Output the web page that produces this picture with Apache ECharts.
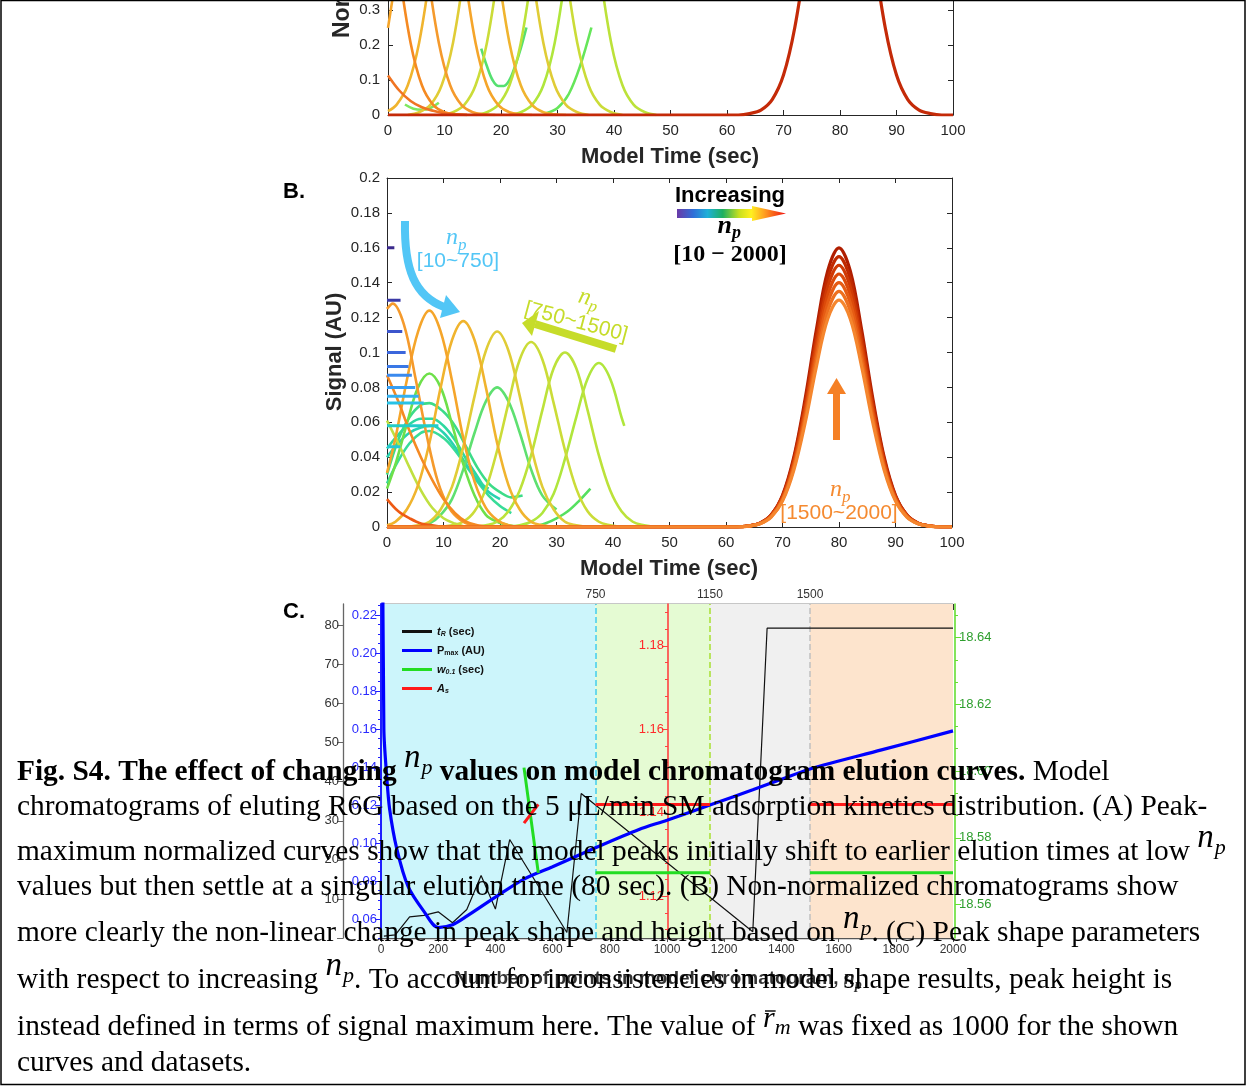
<!DOCTYPE html>
<html>
<head>
<meta charset="utf-8">
<title>Fig. S4</title>
<script src="https://cdn.jsdelivr.net/npm/echarts@6/dist/echarts.min.js"></script>
<style>html,body{margin:0;padding:0;background:#fff;} #main{width:1247px;height:1086px;}</style>
</head>
<body>
<div id="main"></div>
<script>
// ---------- panel A: normalized curves [time, signal] ----------
var aEdge1 = [[0,0.113],[2,0.07],[4,0.04],[6,0.022],[8,0.012],[10,0.005],[12,0.002],[14,0]];
var aEdge2 = [[0,0.67],[2,0.41],[4,0.206],[6,0.085],[8,0.029],[10,0.008],[12,0.002],[14,0]];
var aPeak1 = [[0,0.976],[1,1],[3,0.906],[5,0.674],[7,0.411],[9,0.206],[11,0.085],[13,0.029],[15,0.008],[17,0.002],[19,0]];
var aPeak2 = [[0,0.249],[1.5,0.411],[3.5,0.674],[5.5,0.906],[7.5,1],[9.5,0.906],[11.5,0.674],[13.5,0.411],[15.5,0.206],[17.5,0.085],[19.5,0.029],[21.5,0.008],[23.5,0.002],[25.5,0]];
var aPeak3 = [[0,0.011],[1.5,0.029],[3.5,0.085],[5.5,0.206],[7.5,0.411],[9.5,0.674],[11.5,0.906],[13.5,1],[15.5,0.906],[17.5,0.674],[19.5,0.411],[21.5,0.206],[23.5,0.085],[25.5,0.029],[27.5,0.008],[29.5,0.002],[31.5,0]];
var aPeak4 = [[3.5,0],[5.5,0.008],[7.5,0.029],[9.5,0.085],[11.5,0.206],[13.5,0.411],[15.5,0.674],[17.5,0.906],[19.5,1],[21.5,0.906],[23.5,0.674],[25.5,0.411],[27.5,0.206],[29.5,0.085],[31.5,0.029],[33.5,0.008],[35.5,0]];
var aPeak5 = [[9.5,0],[11.5,0.008],[13.5,0.029],[15.5,0.085],[17.5,0.206],[19.5,0.411],[21.5,0.674],[23.5,0.906],[25.5,1],[27.5,0.906],[29.5,0.674],[31.5,0.411],[33.5,0.206],[35.5,0.085],[37.5,0.029],[39.5,0.008],[41.5,0]];
var aPeak6 = [[15.5,0],[17.5,0.008],[19.5,0.029],[21.5,0.085],[23.5,0.206],[25.5,0.411],[27.5,0.674],[29.5,0.906],[31.5,1],[33.5,0.906],[35.5,0.674],[37.5,0.411],[39.5,0.206],[41.5,0.085],[43.5,0.029],[45.5,0.008],[47.5,0]];
var aPeak7 = [[21.5,0],[23.5,0.008],[25.5,0.029],[27.5,0.085],[29.5,0.206],[31.5,0.411],[33.5,0.674],[35.5,0.906],[37.5,1],[39.5,0.906],[41.5,0.674],[42,0.607]];
var aGreenLow = [[3,0.03],[4.5,0.018],[6,0.015],[7.5,0.02],[9,0.035]];
var aGreenDip = [[16.5,0.19],[17.5,0.14],[18.5,0.1],[19.5,0.083],[20.5,0.083],[21.5,0.1],[22.5,0.14],[23.5,0.19],[24.5,0.25]];
var aGreenRise = [[28,0.005],[30,0.02],[32,0.06],[34,0.14],[36,0.25]];
var lateX = [0,62,64,66,68,70,72,74,76,78,80,82,84,86,88,90,92,94,96,98,100];
var aLate = [0,0,0.004,0.014,0.044,0.114,0.25,0.458,0.707,0.917,1,0.917,0.707,0.458,0.25,0.114,0.044,0.014,0.004,0,0];
var aTicks = [0,0.1,0.2,0.3];

// ---------- panel B: raw curves [time, signal] ----------
var bFlatLevel = [0.16,0.13,0.112,0.1,0.092,0.087,0.08,0.075,0.071,0.058,0.046];
var bFlatEnd   = [1.3,2.4,2.7,3.3,3.8,4.4,5.0,5.6,6.5,9.1,2.4];
var bEdge1 = [[0,0.087],[2,0.072],[4,0.055],[6,0.04],[8,0.027],[10,0.016],[12,0.008],[14,0.003],[16,0.001],[18,0]];
var bEdge2 = [[0,0.016],[2,0.009],[4,0.005],[6,0.002],[8,0.001],[10,0]];
var bEdge3 = [[0,0.061],[2,0.048],[4,0.034],[6,0.021],[8,0.011],[10,0.005],[12,0.002],[14,0]];
var bGreen1 = [[0,0.022],[1.5,0.036],[3.5,0.059],[5.5,0.08],[7.5,0.088],[9.5,0.08],[11.5,0.059],[13.5,0.036],[15.5,0.018],[17.5,0.007],[19.5,0.003],[21.5,0.001],[23.5,0]];
var bGreen2 = [[5.5,0.001],[7.5,0.002],[9.5,0.007],[11.5,0.016],[13.5,0.033],[15.5,0.054],[17.5,0.072],[19.5,0.08],[21.5,0.072],[23.5,0.054],[25.5,0.033],[27.5,0.018],[30,0.01]];
var bTeal1 = [[0,0.03],[2,0.05],[4,0.063],[6,0.07],[7.5,0.071],[10,0.066],[12,0.058],[14,0.046],[16,0.034],[18,0.025],[20,0.02],[22,0.017],[24,0.018]];
var bTeal2 = [[0,0.045],[2,0.053],[4,0.059],[6,0.062],[8,0.062],[10,0.058],[12,0.05],[14,0.039],[16,0.029],[17,0.024],[18,0.022]];
var bTeal3 = [[0,0.04],[2,0.048],[4,0.054],[6,0.057],[8,0.058],[10,0.054],[12,0.046],[14,0.036],[16,0.027],[18,0.02],[20,0.016]];
var bTeal4 = [[0,0.025],[2,0.038],[4,0.048],[6,0.054],[7.5,0.055],[10,0.051],[12,0.044],[14,0.035],[16,0.026],[18,0.018],[20,0.012],[22,0.008]];
var bGreenRise = [[26,0],[28,0.002],[30,0.005],[32,0.009],[34,0.015],[36,0.022]];
var bPeak1 = [[0,0.125],[1,0.128],[3,0.116],[5,0.086],[7,0.053],[9,0.026],[11,0.011],[13,0.004],[15,0.001],[17,0]];
var bPeak2 = [[0,0.031],[1.5,0.051],[3.5,0.084],[5.5,0.112],[7.5,0.124],[9.5,0.112],[11.5,0.084],[13.5,0.051],[15.5,0.026],[17.5,0.011],[19.5,0.004],[21.5,0.001],[23.5,0]];
var bPeak3 = [[0,0.001],[1.5,0.003],[3.5,0.01],[5.5,0.024],[7.5,0.048],[9.5,0.08],[11.5,0.107],[13.5,0.118],[15.5,0.107],[17.5,0.08],[19.5,0.048],[21.5,0.024],[23.5,0.01],[25.5,0.003],[27.5,0.001],[29.5,0]];
var bPeak4 = [[3.5,0],[5.5,0.001],[7.5,0.003],[9.5,0.01],[11.5,0.023],[13.5,0.046],[15.5,0.075],[17.5,0.101],[19.5,0.112],[21.5,0.101],[23.5,0.075],[25.5,0.046],[27.5,0.023],[29.5,0.01],[31.5,0.003],[33.5,0.001],[35.5,0]];
var bPeak5 = [[9.5,0],[11.5,0.001],[13.5,0.003],[15.5,0.009],[17.5,0.022],[19.5,0.044],[21.5,0.071],[23.5,0.096],[25.5,0.106],[27.5,0.096],[29.5,0.071],[31.5,0.044],[33.5,0.022],[35.5,0.009],[37.5,0.003],[39.5,0.001],[41.5,0]];
var bPeak6 = [[15.5,0],[17.5,0.001],[19.5,0.003],[21.5,0.009],[23.5,0.021],[25.5,0.041],[27.5,0.067],[29.5,0.091],[31.5,0.1],[33.5,0.091],[35.5,0.067],[37.5,0.041],[39.5,0.021],[41.5,0.009],[43.5,0.003],[45.5,0.001],[47.5,0]];
var bPeak7 = [[21.5,0],[23.5,0.001],[25.5,0.003],[27.5,0.008],[29.5,0.019],[31.5,0.039],[33.5,0.063],[35.5,0.085],[37.5,0.094],[39.5,0.085],[41.5,0.063],[42,0.058]];
var bLate160 = [0,0,0.0006,0.0022,0.007,0.0182,0.04,0.0733,0.1131,0.1467,0.16,0.1467,0.1131,0.0733,0.04,0.0182,0.007,0.0022,0.0006,0,0];
var bLate155 = [0,0,0.0006,0.0022,0.0068,0.0177,0.0388,0.071,0.1096,0.1421,0.155,0.1421,0.1096,0.071,0.0388,0.0177,0.0068,0.0022,0.0006,0,0];
var bLate150 = [0,0,0.0006,0.0021,0.0066,0.0171,0.0375,0.0687,0.1061,0.1376,0.15,0.1376,0.1061,0.0687,0.0375,0.0171,0.0066,0.0021,0.0006,0,0];
var bLate145 = [0,0,0.0006,0.002,0.0064,0.0165,0.0363,0.0664,0.1025,0.133,0.145,0.133,0.1025,0.0664,0.0363,0.0165,0.0064,0.002,0.0006,0,0];
var bLate140 = [0,0,0.0006,0.002,0.0062,0.016,0.035,0.0641,0.099,0.1284,0.14,0.1284,0.099,0.0641,0.035,0.016,0.0062,0.002,0.0006,0,0];
var bLate135 = [0,0,0.0005,0.0019,0.0059,0.0154,0.0338,0.0618,0.0954,0.1238,0.135,0.1238,0.0954,0.0618,0.0338,0.0154,0.0059,0.0019,0.0005,0,0];
var bLate130 = [0,0,0.0005,0.0018,0.0057,0.0148,0.0325,0.0595,0.0919,0.1192,0.13,0.1192,0.0919,0.0595,0.0325,0.0148,0.0057,0.0018,0.0005,0,0];

// ---------- panel C: peak shape parameters vs n_p ----------
var npTR = [10,50,100,150,200,250,300,350,400,450,650,700,1300,1350,2000];
var tR   = [0.5,0.8,5.4,5.8,6.7,3.9,7.3,16,7.4,25.2,1.4,37,1.6,79.3,79.3];
var npPmax = [5,10,20,30,55,95,150,200,250,300,400,500,600,750,900,1000,1150,1300,1400,1500,1750,2000];
var pMax   = [0.30,0.16,0.135,0.118,0.097,0.077,0.064,0.0555,0.057,0.0615,0.0715,0.081,0.0875,0.0975,0.107,0.112,0.12,0.128,0.1335,0.139,0.149,0.159];
var npShape = [500,550,600,750,1150,1200,1500,2000];
var w01 = [18.601,18.5695,'-',18.5695,18.5695,'-',18.5695,18.5695];
var aS  = [1.1375,1.142,'-',1.142,1.142,'-',1.142,1.142];
var zoneEdges = [0,750,1150,1500,2000];
var npTopLabels = [750,1150,1500];
var blackTicks = [0,10,20,30,40,50,60,70,80];
var blueTicks = [0.06,0.08,0.10,0.12,0.14,0.16,0.18,0.20,0.22];
var blueMinor = [0.05,0.055,0.065,0.07,0.075,0.085,0.09,0.095,0.105,0.11,0.115,0.125,0.13,0.135,0.145,0.15,0.155,0.165,0.17,0.175,0.185,0.19,0.195,0.205,0.21,0.215,0.225];
var redTicks = [1.12,1.14,1.16,1.18];
var redMinor = [1.112,1.116,1.124,1.128,1.132,1.136,1.144,1.148,1.152,1.156,1.164,1.168,1.172,1.176,1.184,1.188];
var greenTicks = [18.56,18.58,18.60,18.62,18.64];
var greenMinor = [18.5533,18.5667,18.5733,18.5867,18.5933,18.6067,18.6133,18.6267,18.6333,18.6467];

var AX = '#262626';
var SANS = '"Liberation Sans", Arial, sans-serif';
var SERIF = '"Liberation Serif", "Times New Roman", serif';

function zip(xs, ys) { return xs.map(function (x, i) { return [x, ys[i]]; }); }
function curve(data, color, width, xi, yi, z) {
    return {
        type: 'line', data: data, xAxisIndex: xi, yAxisIndex: yi,
        symbol: 'none', smooth: 0.35, clip: true, silent: true, animation: false,
        lineStyle: {color: color, width: width}, itemStyle: {color: color}, z: z || 2
    };
}
function plain(v) { return String(v); }

var series = [];
// panel A
[[aGreenLow,'#7ee860'],[aGreenDip,'#55e070'],[aGreenRise,'#66e65a'],
 [aPeak7,'#b0e63c'],[aPeak6,'#bce23a'],[aPeak5,'#cbdc38'],[aPeak4,'#e0cc36'],
 [aPeak3,'#f0b42e'],[aPeak2,'#f5a52a'],[aPeak1,'#f59a2c'],[aEdge2,'#f58a22'],[aEdge1,'#f07422']
].forEach(function (c) { series.push(curve(c[0], c[1], 2.6, 0, 0)); });
series.push(curve(zip(lateX, aLate), '#c42a08', 3.2, 0, 0, 3));

// panel B
var flatColors = ['#3b2a8c','#3b3aa6','#3c55cc','#3b66dc','#3a78e6','#3a8aee','#389ef2','#33b0f0','#28c2e6','#22ccc8','#25c6d6'];
bFlatLevel.forEach(function (lv, i) {
    series.push(curve([[0, lv], [bFlatEnd[i], lv]], flatColors[i], 3, 1, 2, 4));
});
[[bTeal4,'#38dc98'],[bTeal3,'#28d2b0'],[bTeal2,'#2ed8a0'],[bTeal1,'#3cdc88'],
 [bGreen2,'#5ee070'],[bGreen1,'#6ee04a'],[bGreenRise,'#55e060'],[bEdge3,'#c0e040'],
 [bPeak7,'#b0e63c'],[bPeak6,'#bce23a'],[bPeak5,'#cbdc38'],[bPeak4,'#e0cc36'],
 [bPeak3,'#f0b42e'],[bPeak2,'#f5a52a'],[bPeak1,'#f59a2c'],[bEdge1,'#f58a22'],[bEdge2,'#ee5a14']
].forEach(function (c) { series.push(curve(c[0], c[1], 2.6, 1, 2)); });
[[bLate160,'#b01e00'],[bLate155,'#c02a00'],[bLate150,'#cf3a05'],[bLate145,'#dc4a0a'],
 [bLate140,'#e65c14'],[bLate135,'#ee701f'],[bLate130,'#f5862e']
].forEach(function (c) { series.push(curve(zip(lateX, c[0]), c[1], 3.2, 1, 2, 3)); });

// panel C background zones and dashed separators
var zoneColors = ['#ccf5fb', '#e5fbd3', '#f0f0f0', '#fde4cd'];
var sepColors = ['#3fcdf0', '#a6e030', '#c0c0c0'];
series.push({
    type: 'line', data: [], xAxisIndex: 3, yAxisIndex: 4, z: 1, silent: true,
    markArea: {silent: true, data: zoneColors.map(function (col, i) {
        return [{xAxis: zoneEdges[i], itemStyle: {color: col}}, {xAxis: zoneEdges[i + 1]}];
    })},
    markLine: {silent: true, symbol: ['none', 'none'], label: {show: false},
        lineStyle: {type: 'dashed', width: 1.5},
        data: sepColors.map(function (col, i) { return {xAxis: zoneEdges[i + 1], lineStyle: {color: col}}; })}
});
var cS = function (name, data, color, width, yi) {
    var s = curve(data, color, width, 3, yi, 6);
    s.name = name; s.smooth = false; s.connectNulls = false;
    return s;
};
series.push(cS('tR', zip(npTR, tR), '#111', 1.2, 4));
var pm = cS('Pmax', zip(npPmax, pMax), '#0000ff', 3.2, 5); pm.smooth = 0.3; series.push(pm);
series.push(cS('w01', zip(npShape, w01), '#22dd22', 3, 9));
series.push(cS('As', zip(npShape, aS), '#ff1a1a', 3, 7));

function frameAxis(grid, pos, min, max, step) {
    return {gridIndex: grid, position: pos, type: 'value', min: min, max: max, interval: step,
        axisLine: {show: true, onZero: false, lineStyle: {color: AX}},
        axisTick: {inside: true, length: 5, lineStyle: {color: AX}},
        axisLabel: {show: false}, splitLine: {show: false}};
}
function tickAxis(grid, pos, min, max, step) {
    var a = frameAxis(grid, pos, min, max, step);
    a.axisLabel = {show: true, fontSize: 15, color: AX, fontFamily: SANS, margin: 8, formatter: plain};
    return a;
}
function cAxis(pos, offset, min, max, ticks, minor, color, labelColor, lw) {
    return [{
        gridIndex: 2, position: pos, offset: offset, type: 'value', min: min, max: max, z: 5,
        axisLine: {show: true, onZero: false, lineStyle: {color: color, width: lw}},
        axisTick: {customValues: ticks, length: 6, lineStyle: {color: color}},
        axisLabel: {customValues: ticks, fontSize: 13, color: labelColor, fontFamily: SANS, margin: 4,
            formatter: function (v) { return v.toFixed(2); }},
        splitLine: {show: false}
    }, {
        gridIndex: 2, position: pos, offset: offset, type: 'value', min: min, max: max, z: 5,
        axisLine: {show: false, onZero: false},
        axisTick: {customValues: minor, length: 3, lineStyle: {color: color}},
        axisLabel: {show: false}, splitLine: {show: false}
    }];
}

var xA = tickAxis(0, 'bottom', 0, 100, 10);
var xB = tickAxis(1, 'bottom', 0, 100, 10);
var xBtop = frameAxis(1, 'top', 0, 100, 10);
var xC = {gridIndex: 2, position: 'bottom', type: 'value', min: 0, max: 2000, interval: 200,
    axisLine: {onZero: false, lineStyle: {color: '#555', width: 1.3}},
    axisTick: {length: 4, lineStyle: {color: '#555'}},
    axisLabel: {fontSize: 12, color: '#333', fontFamily: SANS, margin: 6, formatter: plain},
    splitLine: {show: false}};
var xCtop = {gridIndex: 2, position: 'top', type: 'value', min: 0, max: 2000, interval: 100,
    axisLine: {onZero: false, lineStyle: {color: '#222', width: 1.3}},
    axisTick: {inside: true, length: 6, lineStyle: {color: '#333'}},
    axisLabel: {customValues: npTopLabels, fontSize: 12, color: '#333', fontFamily: SANS, margin: 3, formatter: plain},
    splitLine: {show: false}};

var yA = tickAxis(0, 'left', 0, 0.3286, null);
yA.axisTick.customValues = aTicks; yA.axisLabel.customValues = aTicks;
var yAr = frameAxis(0, 'right', 0, 0.3286, null);
yAr.axisTick.customValues = aTicks;
var yB = tickAxis(1, 'left', 0, 0.2, 0.02); yB.axisLabel.margin = 7;
var yBr = frameAxis(1, 'right', 0, 0.2, 0.02);
var yBlack = {gridIndex: 2, position: 'left', offset: 38, type: 'value', min: 0, max: 85.5, z: 5,
    axisLine: {show: true, onZero: false, lineStyle: {color: '#666', width: 1.3}},
    axisTick: {customValues: blackTicks, length: 6, lineStyle: {color: '#666'}},
    axisLabel: {customValues: blackTicks.slice(1), fontSize: 13, color: '#333', fontFamily: SANS, margin: 4},
    splitLine: {show: false}};
var blue = cAxis('left', 0, 0.05, 0.2258, blueTicks, blueMinor, '#1f1fff', '#2a2aff', 2);
var red = cAxis('left', -287, 1.11, 1.19, redTicks, redMinor, '#ff4040', '#ff2a2a', 1.6);
var green = cAxis('right', 2, 18.55, 18.65, greenTicks, greenMinor, '#66dd33', '#2e9e2e', 1.6);

// ---------- text and annotations ----------
var graphics = [];
var mctx = document.createElement('canvas').getContext('2d');
function txt(x, y, text, font, color, align, extra) {
    var el = {type: 'text', x: x, y: y, z: 50, silent: true,
        style: {text: text, font: font, fill: color || '#000', textAlign: align || 'left', textVerticalAlign: 'middle'}};
    if (extra) { for (var k in extra) el[k] = extra[k]; }
    graphics.push(el);
    return el;
}
function npLabel(x, y, size, color, bold) {
    var w = bold ? 'bold ' : '';
    return [
        {type: 'text', x: x, y: y, z: 50, style: {text: 'n', font: 'italic ' + w + size + 'px ' + SERIF, fill: color, textAlign: 'right', textVerticalAlign: 'middle'}},
        {type: 'text', x: x, y: y + size * 0.3, z: 50, style: {text: 'p', font: 'italic ' + w + Math.round(size * 0.7) + 'px ' + SERIF, fill: color, textAlign: 'left', textVerticalAlign: 'middle'}}
    ];
}

graphics.push({type: 'rect', z: 60, silent: true, shape: {x: 1, y: 0.5, width: 1244, height: 1084},
    style: {fill: 'none', stroke: '#000', lineWidth: 1.5}});
txt(343, 38, 'Normalized Signal (AU)', 'bold 23px ' + SANS, AX, 'left', {rotation: Math.PI / 2});
txt(670, 157, 'Model Time (sec)', 'bold 22px ' + SANS, AX, 'center');
txt(669, 569, 'Model Time (sec)', 'bold 22px ' + SANS, AX, 'center');
txt(335, 352, 'Signal (AU)', 'bold 22px ' + SANS, AX, 'center', {rotation: Math.PI / 2});
txt(283, 192, 'B.', 'bold 22px ' + SANS, '#000', 'left');
txt(283, 612, 'C.', 'bold 22px ' + SANS, '#000', 'left');

// x-axis title of panel C
(function () {
    var f1 = 'bold 19px ' + SANS, f2 = 'italic bold 20px ' + SERIF, f3 = 'italic bold 14px ' + SERIF;
    var t1 = 'Number of points in model chromatogram, ';
    mctx.font = f1; var w1 = mctx.measureText(t1).width;
    mctx.font = f2; var w2 = mctx.measureText('n').width;
    var x0 = 658 - (w1 + w2 + 7) / 2;
    txt(x0, 979, t1, f1, '#333', 'left');
    txt(x0 + w1, 979, 'n', f2, '#333', 'left');
    txt(x0 + w1 + w2, 985, 'p', f3, '#333', 'left');
})();

// increasing n_p legend arrow
txt(730, 196, 'Increasing', 'bold 22px ' + SANS, '#000', 'center');
graphics.push({type: 'polygon', z: 50, silent: true,
    shape: {points: [[677, 209], [752, 209], [752, 206], [786, 213.5], [752, 221], [752, 218], [677, 218]]},
    style: {fill: new echarts.graphic.LinearGradient(0, 0, 1, 0, [
        {offset: 0, color: '#6a3aa8'}, {offset: 0.15, color: '#2f6fd8'}, {offset: 0.28, color: '#1fb0d8'},
        {offset: 0.42, color: '#1fb060'}, {offset: 0.57, color: '#c8e020'}, {offset: 0.68, color: '#fff020'},
        {offset: 0.8, color: '#ffa020'}, {offset: 1, color: '#f01010'}])}});
graphics = graphics.concat(npLabel(732, 226, 26, '#000', true));
txt(730, 255, '[10 \u2212 2000]', 'bold 24px ' + SERIF, '#000', 'center');

// 10~750 arrow
graphics.push({type: 'bezierCurve', z: 50, silent: true,
    shape: {x1: 405, y1: 221, cpx1: 404, cpy1: 270, cpx2: 415, cpy2: 296, x2: 444, y2: 307},
    style: {stroke: '#52c6f6', lineWidth: 8, fill: 'none'}});
graphics.push({type: 'polygon', z: 50, silent: true, shape: {points: [[460, 312], [446, 295], [440, 318]]}, style: {fill: '#52c6f6'}});
graphics = graphics.concat(npLabel(458, 238, 24, '#52c6f6', false));
txt(458, 261, '[10~750]', '21px ' + SANS, '#52c6f6', 'center');

// 750~1500 arrow
graphics.push({type: 'line', z: 50, silent: true, shape: {x1: 616, y1: 349, x2: 535, y2: 324}, style: {stroke: '#c6dc2a', lineWidth: 8}});
graphics.push({type: 'polygon', z: 50, silent: true, shape: {points: [[522, 323], [539, 311], [532, 336]]}, style: {fill: '#c6dc2a'}});
graphics.push({type: 'group', x: 576, y: 322, rotation: -0.26, children: [
    {type: 'text', x: 0, y: 0, z: 50, style: {text: '[750~1500]', font: '21px ' + SANS, fill: '#c6dc2a', textAlign: 'center', textVerticalAlign: 'middle'}}
].concat(npLabel(8, -26, 24, '#c6dc2a', false))});

// 1500~2000 arrow
graphics.push({type: 'rect', z: 50, silent: true, shape: {x: 833, y: 392, width: 7, height: 48}, style: {fill: '#f58025'}});
graphics.push({type: 'polygon', z: 50, silent: true, shape: {points: [[827, 394], [846, 394], [836.5, 378]]}, style: {fill: '#f58025'}});
graphics = graphics.concat(npLabel(842, 490, 24, '#f58a30', false));
txt(839, 513, '[1500~2000]', '21px ' + SANS, '#f58a30', 'center');

// ---------- caption ----------
var capKinds = {
    r:  {size: 29.4, font: '29.4px ' + SERIF, dy: 0},
    b:  {size: 29.4, font: 'bold 29.4px ' + SERIF, dy: 0},
    n:  {size: 33, font: 'italic 33px ' + SERIF, dy: -12},
    p:  {size: 22, font: 'italic 22px ' + SERIF, dy: -6},
    rb: {size: 30, font: 'italic 30px ' + SERIF, dy: -8},
    m:  {size: 22, font: 'italic 22px ' + SERIF, dy: -1}
};
var capLines = [
    {y: 782, segs: [['b', 'Fig. S4. The effect of changing '], ['n', 'n'], ['p', 'p'], ['b', ' values on model chromatogram elution curves.'], ['r', ' Model']]},
    {y: 817, segs: [['r', 'chromatograms of eluting R6G based on the 5 \u03bcL/min SM adsorption kinetics distribution. (A) Peak-']]},
    {y: 862, segs: [['r', 'maximum normalized curves show that the model peaks initially shift to earlier elution times at low '], ['n', 'n'], ['p', 'p']]},
    {y: 897, segs: [['r', 'values but then settle at a singular elution time (80 sec). (B) Non-normalized chromatograms show']]},
    {y: 943, segs: [['r', 'more clearly the non-linear change in peak shape and height based on '], ['n', 'n'], ['p', 'p'], ['r', '. (C) Peak shape parameters']]},
    {y: 990, segs: [['r', 'with respect to increasing '], ['n', 'n'], ['p', 'p'], ['r', '. To account for inconsistencies in model shape results, peak height is']]},
    {y: 1037, segs: [['r', 'instead defined in terms of signal maximum here. The value of '], ['rb', 'r'], ['m', 'm'], ['r', ' was fixed as 1000 for the shown']]},
    {y: 1073, segs: [['r', 'curves and datasets.']]}
];
capLines.forEach(function (line) {
    var x = 17;
    line.segs.forEach(function (sg) {
        var k = capKinds[sg[0]];
        mctx.font = k.font;
        var w = mctx.measureText(sg[1]).width;
        graphics.push({type: 'text', x: x, y: line.y + k.dy - 0.34 * k.size, z: 80, silent: true,
            style: {text: sg[1], font: k.font, fill: '#000', textAlign: 'left', textVerticalAlign: 'middle'}});
        if (sg[0] === 'rb') {
            graphics.push({type: 'line', z: 80, silent: true,
                shape: {x1: x + 2, y1: line.y - 26, x2: x + w + 1, y2: line.y - 26}, style: {stroke: '#000', lineWidth: 1.4}});
        }
        x += w + (sg[0] === 'n' ? 1 : 0);
    });
});

var chart = echarts.init(document.getElementById('main'));
chart.setOption({
    animation: false,
    backgroundColor: '#fff',
    grid: [
        {left: 388, top: 0, width: 565, height: 115},
        {left: 387, top: 178, width: 565, height: 349},
        {left: 381, top: 604, width: 572, height: 334}
    ],
    xAxis: [xA, xB, xBtop, xC, xCtop],
    yAxis: [yA, yAr, yB, yBr, yBlack, blue[0], blue[1], red[0], red[1], green[0], green[1]],
    legend: {
        data: [{name: 'tR', icon: 'rect'}, {name: 'Pmax', icon: 'rect'}, {name: 'w01', icon: 'rect'}, {name: 'As', icon: 'rect'}],
        orient: 'vertical', left: 397, top: 621,
        itemWidth: 30, itemHeight: 3, itemGap: 7, selectedMode: false,
        formatter: function (n) {
            return {tR: '{i|t}{s|R}{t| (sec)}', Pmax: '{t|P}{sn|max}{t| (AU)}',
                    w01: '{i|w}{s|0.1}{t| (sec)}', As: '{i|A}{s|s}'}[n];
        },
        textStyle: {color: '#111', rich: {
            t: {fontSize: 11, fontWeight: 'bold', fontFamily: SANS, color: '#111'},
            i: {fontSize: 11, fontWeight: 'bold', fontStyle: 'italic', fontFamily: SANS, color: '#111'},
            s: {fontSize: 7, fontWeight: 'bold', fontStyle: 'italic', fontFamily: SANS, color: '#111', padding: [6, 0, 0, 0]},
            sn: {fontSize: 7, fontWeight: 'bold', fontFamily: SANS, color: '#111', padding: [6, 0, 0, 0]}
        }}
    },
    series: series,
    graphic: {elements: graphics}
});
</script>
</body>
</html>
